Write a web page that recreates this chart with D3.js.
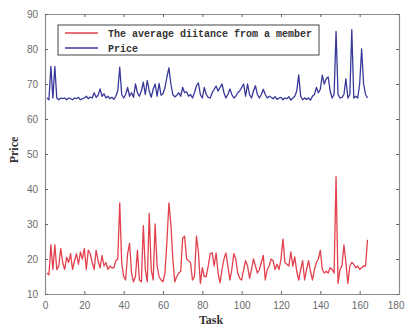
<!DOCTYPE html>
<html>
<head>
<meta charset="utf-8">
<script src="https://cdn.jsdelivr.net/npm/d3@7"></script>
<style>
  body { margin: 0; background: #fff; }
  svg { display: block; }
</style>
</head>
<body>
<div id="graph"></div>
<script>
// values, task 1..164
const price = [
  66, 65.5, 75, 66, 75, 66, 65.5, 66, 65.8, 66,
  65.5, 66, 65.8, 65.5, 66, 65.8, 66.2, 65.5, 65.8, 66,
  66.5, 65.8, 66.3, 66, 67.5, 66.2, 66.8, 68.6, 66.5, 67.2,
  66, 66.5, 65.8, 66.2, 65.6, 66.5, 68, 74.8, 67, 66,
  67, 69, 66.5, 67.5, 66.2, 70, 67.5, 66.5, 68, 70.5,
  67, 71, 68, 66.2, 68.5, 70, 66.5, 70.2, 66.8, 67.2,
  69, 72, 74.6, 70, 67, 66.3, 66.8, 67.5, 66.5, 69,
  67.5, 67.8, 66.5, 67, 66, 67.5, 69.5, 70.3, 67, 66,
  69, 67, 66.2, 66, 67.5, 68.5, 69.4, 68, 69, 70,
  67.5, 66, 67, 68.6, 67, 66, 66.5, 67.5, 68, 69,
  70, 66.5, 70, 67, 66, 68, 69.5, 67, 66, 67,
  68.5, 67, 66, 66.5, 66.2, 65.8, 66.4, 65.6, 66, 66.2,
  65.5, 66, 65.8, 66.4, 65.4, 66, 66.5, 68, 72.6, 66.5,
  65.5, 66, 65.6, 66, 65.4, 66.5, 67, 69, 67.5, 68.5,
  72.5, 70, 71.5, 72, 68, 66, 67, 85, 67, 66,
  66.2, 67, 71.5, 66, 67, 85.5, 66, 66.5, 66, 70,
  80, 70, 67, 66
];
const distance = [
  16, 15.5, 24, 17, 24, 17, 18, 23, 19, 17,
  20.5, 19, 21.5, 17, 19.5, 21.5, 18.5, 22, 20, 23,
  17, 22.5, 21.5, 19, 17, 22.5, 19.5, 17.5, 21, 18,
  19, 17, 18, 17.5, 17.5, 19.5, 20, 36, 19, 15,
  14, 21.5, 24.5, 16, 13.5, 15, 22.5, 14, 13.5, 29.5,
  17, 13.5, 33, 17, 14, 30, 18, 15, 14, 13.5,
  16, 25, 36, 30, 20, 13.5, 15, 16, 16.5, 26,
  26.5, 20, 19.5, 19, 14, 15, 26.5, 22, 13, 17.5,
  15, 15, 18, 21.5, 21.8, 18, 21.7, 16, 13.2, 17,
  20, 21.7, 18, 14, 17, 21.5, 20, 16, 14.5, 14,
  17, 19.5, 18, 14.5, 17, 20, 18, 16, 17, 19,
  21, 14, 17, 18, 20, 19.5, 17, 18.5, 17, 20,
  25.7, 19, 18.5, 18, 22, 18, 20.6, 16.5, 14, 17,
  19.5, 14, 17, 19.5, 16.5, 14, 17, 19, 20, 22.5,
  17, 16, 16.5, 16, 17.5, 17, 16, 43.5, 13, 17,
  18, 24, 19, 13, 18, 19, 18.5, 17.5, 18, 17,
  17.5, 18, 18, 25.5
];
const xTicks = [0, 20, 40, 60, 80, 100, 120, 140, 160, 180];
const yTicks = [10, 20, 30, 40, 50, 60, 70, 80, 90];
const seriesNames = ["The average diitance from a member", "Price"];
const seriesColors = ["#e2404c", "#38389a"];

const width = 406, height = 327;
const margin = {top: 14, right: 7, bottom: 33, left: 45};

const svg = d3.select("#graph").append("svg")
  .attr("width", width).attr("height", height);

const x = d3.scaleLinear().domain([0, 180]).range([margin.left, width - margin.right]);
const y = d3.scaleLinear().domain([10, 90]).range([height - margin.bottom, margin.top]);

const axisColor = "#8a8a8a";
const tickFont = "'Liberation Sans', Arial, sans-serif";

// axes: inward ticks on all four sides, like the original
const gx = svg.append("g").attr("transform", `translate(0,${y(10)})`)
  .call(d3.axisBottom(x).tickValues(xTicks).tickSizeInner(-3).tickSizeOuter(0).tickPadding(8));
const gxTop = svg.append("g").attr("transform", `translate(0,${y(90)})`)
  .call(d3.axisTop(x).tickValues(xTicks).tickSizeInner(-3).tickSizeOuter(0).tickFormat(""));
const gy = svg.append("g").attr("transform", `translate(${x(0)},0)`)
  .call(d3.axisLeft(y).tickValues(yTicks).tickSizeInner(-3).tickSizeOuter(0).tickPadding(7));
const gyRight = svg.append("g").attr("transform", `translate(${x(180)},0)`)
  .call(d3.axisRight(y).tickValues(yTicks).tickSizeInner(-3).tickSizeOuter(0).tickFormat(""));

[gx, gxTop, gy, gyRight].forEach(g => {
  g.select(".domain").attr("stroke", axisColor).attr("stroke-width", 1.2);
  g.selectAll(".tick line").attr("stroke", "#666");
  g.selectAll("text").attr("fill", "#6a6a6a").style("font-family", tickFont).style("font-size", "10px");
});
// keep the last x label inside the window
gx.selectAll(".tick text").filter(d => d === 180).attr("text-anchor", "end").attr("dx", "5");

// lines
const line = d3.line()
  .x((d, i) => x(i + 1))
  .y(d => y(d));

svg.append("path").datum(distance)
  .attr("fill", "none").attr("stroke", seriesColors[0]).attr("stroke-width", 1.3)
  .attr("stroke-linejoin", "round").attr("d", line);

svg.append("path").datum(price)
  .attr("fill", "none").attr("stroke", seriesColors[1]).attr("stroke-width", 1.3)
  .attr("stroke-linejoin", "round").attr("d", line);

// axis labels
svg.append("text")
  .attr("x", 211).attr("y", 324)
  .attr("text-anchor", "middle")
  .style("font-family", "'Liberation Serif', 'Times New Roman', serif")
  .style("font-size", "12px").style("font-weight", "bold").attr("fill", "#333")
  .text("Task");

svg.append("text")
  .attr("transform", "translate(18,150) rotate(-90)")
  .attr("text-anchor", "middle")
  .style("font-family", "'Liberation Serif', 'Times New Roman', serif")
  .style("font-size", "12px").style("font-weight", "bold").attr("fill", "#333")
  .text("Price");

// legend
const legend = svg.append("g").attr("transform", "translate(58,25)");
legend.append("rect")
  .attr("width", 261).attr("height", 30)
  .attr("fill", "#fff").attr("stroke", "#444").attr("stroke-width", 1);

seriesNames.forEach((name, i) => {
  const yy = 8 + i * 15;
  legend.append("line")
    .attr("x1", 7).attr("x2", 40).attr("y1", yy).attr("y2", yy)
    .attr("stroke", seriesColors[i]).attr("stroke-width", 1.3);
  legend.append("text")
    .attr("x", 50).attr("y", yy + 3.5)
    .style("font-family", "'Liberation Mono', 'Courier New', monospace")
    .style("font-size", "10px").style("font-weight", "bold").attr("fill", "#333")
    .text(name);
});
</script>
</body>
</html>
